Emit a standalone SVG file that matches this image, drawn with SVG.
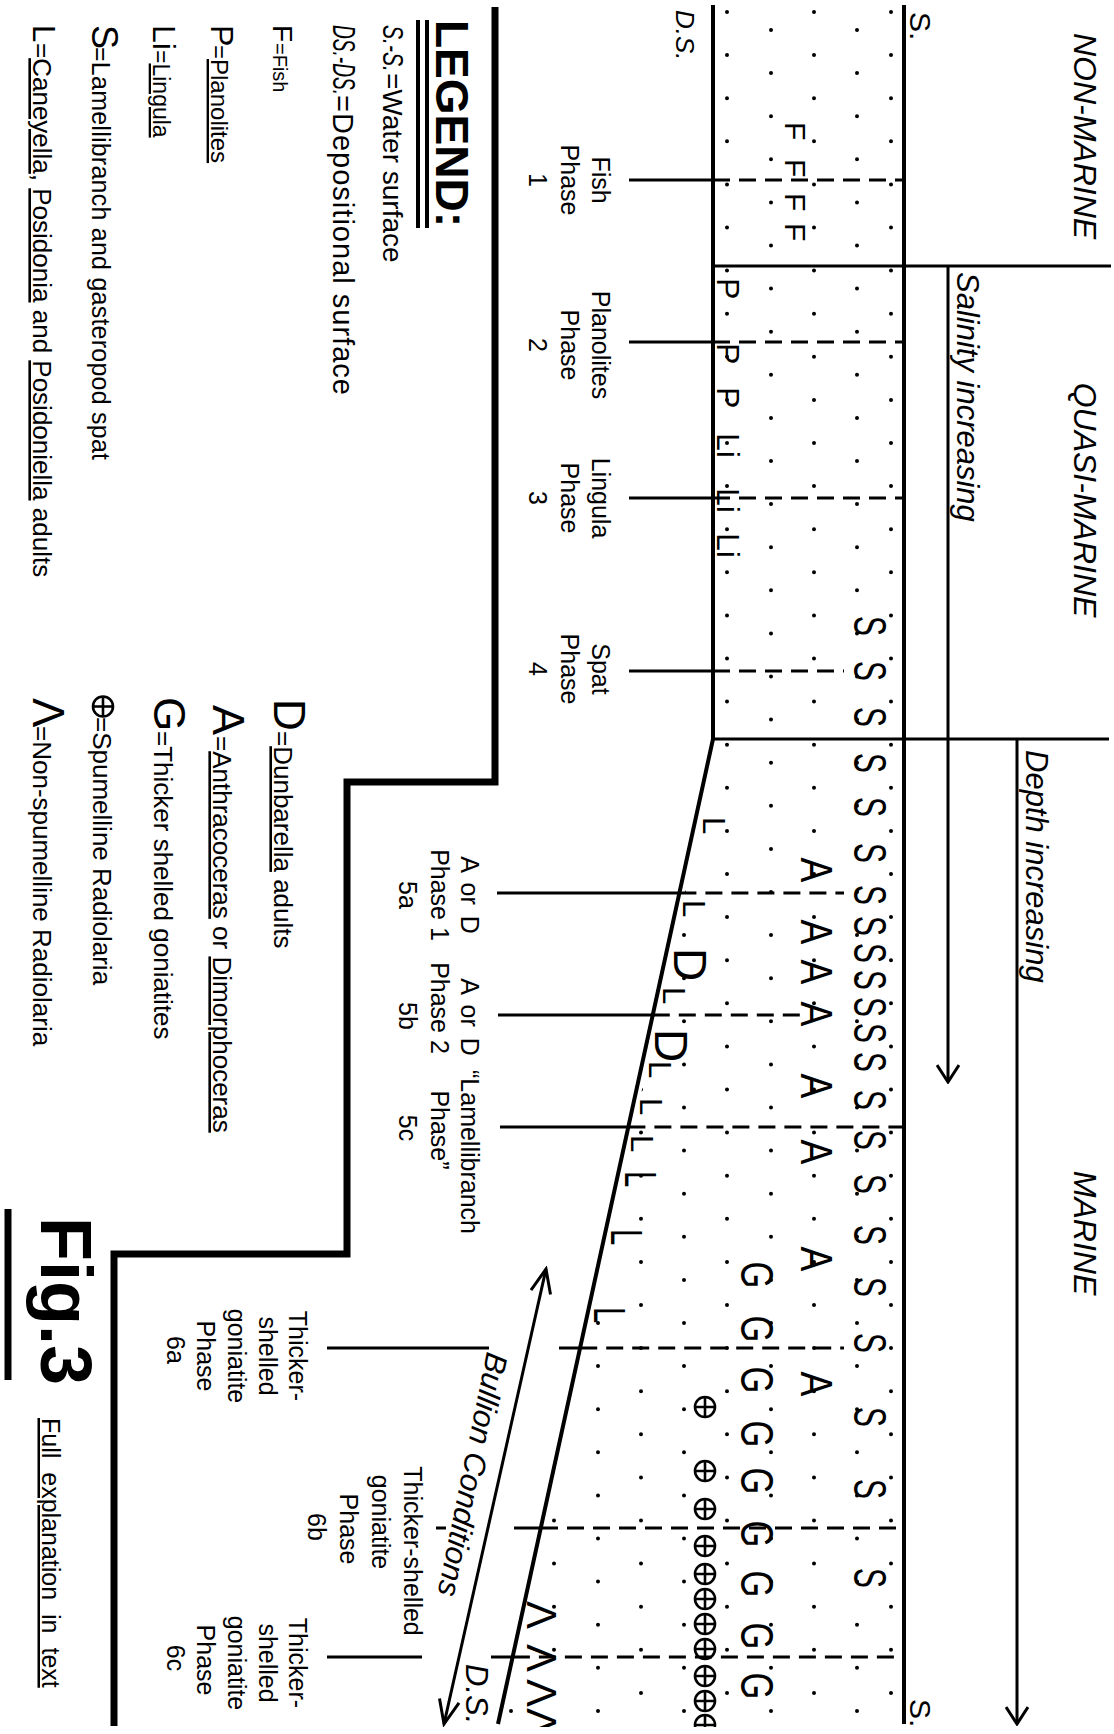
<svg xmlns="http://www.w3.org/2000/svg" width="1114" height="1734" viewBox="0 0 1114 1734">
<style>
text{font-family:"Liberation Sans",Arial,Helvetica,sans-serif;fill:#000}
.it{font-style:italic}
.zone{font-size:32px;font-style:italic;text-anchor:middle}
.note{font-size:31px;font-style:italic}
.pl{font-size:25px;text-anchor:middle}
.lg{font-size:26px}
.u{text-decoration:underline}
.ln{stroke:#000;fill:none}
.thick{stroke-width:4}
.mid{stroke-width:3}
.ph{stroke-width:3}
.dash{stroke-dasharray:17 9}
.dotA,.dotB{stroke:#000;stroke-width:4;stroke-linecap:round;stroke-dasharray:0 43.1;fill:none}
.op circle,.op path{fill:none;stroke:#000;stroke-width:2.6}
</style>
<defs>
<marker id="ah" viewBox="0 0 20 24" refX="18" refY="12" markerWidth="20" markerHeight="24" markerUnits="userSpaceOnUse" orient="auto-start-reverse"><path d="M1,1 L18,12 L1,23" fill="none" stroke="#000" stroke-width="3"/></marker>
<marker id="ah2" viewBox="0 0 28 24" refX="25" refY="12" markerWidth="28" markerHeight="24" markerUnits="userSpaceOnUse" orient="auto-start-reverse"><path d="M1,2 L25,12 L1,22" fill="none" stroke="#000" stroke-width="3"/></marker>
<clipPath id="band"><polygon points="718,0 900,0 900,1730 503,1730 718,739"/></clipPath>
<clipPath id="bottomclip"><rect x="0" y="0" width="1727" height="1114"/></clipPath>
<g id="op" class="op"><circle r="10"/><path d="M-10,0H10M0,-10V10"/></g>
</defs>
<rect width="1114" height="1734" fill="#fff"/>
<g id="dots" clip-path="url(#band)">
<line class="dotA" x1="891" y1="12" x2="891" y2="1734"/>
<line class="dotB" x1="857" y1="30" x2="857" y2="1734"/>
<line class="dotA" x1="814" y1="12" x2="814" y2="1734"/>
<line class="dotB" x1="771" y1="30" x2="771" y2="1734"/>
<line class="dotA" x1="727" y1="12" x2="727" y2="1734"/>
<line class="dotB" x1="684" y1="30" x2="684" y2="1734"/>
<line class="dotA" x1="641" y1="12" x2="641" y2="1734"/>
<line class="dotB" x1="598" y1="30" x2="598" y2="1734"/>
<line class="dotA" x1="554" y1="12" x2="554" y2="1734"/>
<line class="dotB" x1="511" y1="30" x2="511" y2="1734"/>
</g>
<g transform="translate(1114,0) rotate(90)">
<g id="surfaces">
<line class="ln thick" x1="5" y1="210" x2="1724" y2="210"/>
<polyline class="ln thick" points="5,401 739,401 1724,616"/>
<text x="12" y="204" font-size="30">S.</text>
<text x="1699" y="204" font-size="30">S.</text>
<text class="it" x="10" y="438" font-size="26">D.S.</text>
<text class="it" x="1664" y="648" font-size="31">D.S.</text>
</g>
<g id="zones">
<line class="ln mid" x1="266" y1="3" x2="266" y2="401"/>
<line class="ln mid" x1="739" y1="5" x2="739" y2="401"/>
<text class="zone" x="136" y="40">NON-MARINE</text>
<text class="zone" x="500" y="40">QUASI-MARINE</text>
<text class="zone" x="1233" y="40">MARINE</text>
</g>
<g id="trend-arrows">
<line class="ln mid" x1="266" y1="166" x2="1082" y2="166" marker-end="url(#ah)"/>
<text class="note" x="272" y="157">Salinity increasing</text>
<line class="ln mid" x1="739" y1="97" x2="1724" y2="97" marker-end="url(#ah)"/>
<text class="note" x="750" y="88">Depth increasing</text>
<line class="ln mid" x1="1269" y1="568" x2="1724" y2="670" marker-start="url(#ah2)" marker-end="url(#ah2)"/>
<text class="note" font-size="30" transform="translate(1351,627) rotate(11.5)">Bullion Conditions</text>
</g>
<g id="phase-lines">
<path class="ln ph" d="M180,485V401M342,485V401M498,485V401M671,485V401M893,617V434.6M1015,616V461.2M1127,614V485.6M1348,787V625M1348,555V533.8M1528,678V668M1528,600V573M1657,787V692M1657,623V601.1"/>
<line class="ln ph dash" x1="180" y1="401" x2="180" y2="210"/>
<line class="ln ph dash" x1="342" y1="401" x2="342" y2="210"/>
<line class="ln ph dash" x1="498" y1="401" x2="498" y2="210"/>
<line class="ln ph dash" x1="671" y1="401" x2="671" y2="270"/>
<line class="ln ph dash" x1="893" y1="434.6" x2="893" y2="270"/>
<line class="ln ph dash" x1="1015" y1="461.2" x2="1015" y2="313"/>
<line class="ln ph dash" x1="1127" y1="485.6" x2="1127" y2="210"/>
<line class="ln ph dash" x1="1348" y1="533.8" x2="1348" y2="270"/>
<line class="ln ph dash" x1="1528" y1="573" x2="1528" y2="210"/>
<line class="ln ph dash" x1="1657" y1="601.1" x2="1657" y2="210"/>
</g>
<g id="fossils" clip-path="url(#bottomclip)">
<text font-size="30" x="122 159 193 223" y="329">FFFF</text>
<text font-size="32" x="278 343 387" y="397">PPP</text>
<text font-size="32" x="433" y="397">Li</text>
<text font-size="32" x="488" y="397">Li</text>
<text font-size="32" x="533" y="397">Li</text>
<text font-size="46" text-anchor="middle" transform="scale(0.65,1)" x="963.1 1032.3 1103.1 1173.8 1241.5 1312.3 1376.9 1424.6 1466.2 1507.7 1549.2 1589.2 1633.8 1692.3 1753.8 1821.5 1900 1980 2066.2 2180 2290.8 2427.7" y="260">SSSSSSSSSSSSSSSSSSSSSS</text>
<text font-size="45" text-anchor="middle" transform="scale(0.83,1)" x="1048.2 1122.9 1171.1 1221.7 1308.4 1388 1516.9 1667.5" y="313">AAAAAAAA</text>
<text font-size="46" text-anchor="middle" transform="scale(0.75,1)" x="1700 1772 1840 1912 1974.7 2045.3 2112 2181.3 2248" y="373">GGGGGGGGG</text>
<text font-size="31" x="817 900 987 1061 1098 1135" y="411 431 451 465 474 483">LLLLLL</text>
<text font-size="45" transform="scale(0.65,1)" x="1801.5 1890.8 2010.8" y="489 503 520">LLL</text>
<text font-size="46" x="948 1029" y="440 459">DD</text>
<use href="#op" x="1407" y="409"/>
<use href="#op" x="1471" y="409"/>
<use href="#op" x="1509" y="409"/>
<use href="#op" x="1546" y="409"/>
<use href="#op" x="1574" y="409"/>
<use href="#op" x="1599" y="409"/>
<use href="#op" x="1624" y="409"/>
<use href="#op" x="1649" y="409"/>
<use href="#op" x="1676" y="409"/>
<use href="#op" x="1701" y="409"/>
<use href="#op" x="1725" y="409"/>
<text font-size="42" x="1601 1644 1679 1708" y="587">ΛΛΛΛ</text>
</g>
<g id="phase-labels" class="pl">
<text x="180" y="522">Fish</text><text x="180" y="553">Phase</text><text x="180" y="585">1</text>
<text x="345" y="522">Planolites</text><text x="345" y="553">Phase</text><text x="345" y="585">2</text>
<text x="498" y="522">Lingula</text><text x="498" y="553">Phase</text><text x="498" y="585">3</text>
<text x="669" y="522">Spat</text><text x="669" y="553">Phase</text><text x="669" y="585">4</text>
<text x="895" y="653" word-spacing="4">A or D</text><text x="895" y="683">Phase 1</text><text x="895" y="715">5a</text>
<text x="1017" y="653" word-spacing="4">A or D</text><text x="1008" y="683">Phase 2</text><text x="1016" y="715">5b</text>
<text x="1070" y="653" text-anchor="start">“Lamellibranch</text><text x="1130" y="683">Phase”</text><text x="1128" y="715">5c</text>
<text x="1356" y="825">Thicker-</text><text x="1356" y="855">shelled</text><text x="1356" y="886">goniatite</text><text x="1356" y="917">Phase</text><text x="1350" y="947">6a</text>
<text x="1551" y="710">Thicker-shelled</text><text x="1522" y="742">goniatite</text><text x="1529" y="774">Phase</text><text x="1527" y="806">6b</text>
<text x="1663" y="825">Thicker-</text><text x="1663" y="855">shelled</text><text x="1663" y="886">goniatite</text><text x="1660" y="917">Phase</text><text x="1658" y="947">6c</text>
</g>
<g id="legend">
<path class="ln" stroke-width="7" d="M7,619H782V767H1254V1000H1726"/>
<text x="20" y="678" font-size="46" font-weight="bold">LEGEND:</text>
<path class="ln" stroke-width="4" d="M20,687H228M20,696H228"/>
<text class="it" x="25" y="731" font-size="30" textLength="47" lengthAdjust="spacingAndGlyphs">S.-S.</text>
<text x="73" y="731" font-size="28">=Water surface</text>
<text class="it" x="25" y="781" font-size="32" textLength="70" lengthAdjust="spacingAndGlyphs">DS.-DS.</text>
<text x="95" y="781" font-size="29" textLength="300" lengthAdjust="spacing">=Depositional surface</text>
<text x="25" y="841" font-size="28">F</text><text x="43" y="841" font-size="20">=Fish</text>
<text x="25" y="903" font-size="32">P</text><text x="45" y="903" font-size="24">=<tspan class="u">Planolites</tspan></text>
<text x="25" y="961" font-size="32">Li</text><text x="50" y="961" font-size="23">=<tspan class="u">Lingula</tspan></text>
<text x="25" y="1022" font-size="36">S</text><text x="47" y="1022" font-size="25" textLength="413" lengthAdjust="spacing">=Lamellibranch and gasteropod spat</text>
<text x="25" y="1081" font-size="31">L</text><text class="lg" x="43" y="1081">=<tspan class="u">Caneyella</tspan>, <tspan class="u">Posidonia</tspan> and <tspan class="u">Posidoniella</tspan> adults</text>
<text x="699" y="840" font-size="44">D</text><text class="lg" x="731" y="840">=<tspan class="u">Dunbarella</tspan> adults</text>
<text x="705" y="901" font-size="45">A</text><text class="lg" x="736" y="901">=<tspan class="u">Anthracoceras</tspan> or <tspan class="u">Dimorphoceras</tspan></text>
<text x="697" y="960" font-size="44">G</text><text class="lg" x="731" y="960">=Thicker shelled goniatites</text>
<use href="#op" x="706.5" y="1011"/><text class="lg" x="717" y="1021">=Spumelline Radiolaria</text>
<text x="698" y="1081" font-size="44">Λ</text><text class="lg" x="726" y="1081">=Non-spumelline Radiolaria</text>
</g>
<g id="title">
<text x="1217" y="1073" font-size="72" font-weight="bold">Fig.3</text>
<line class="ln" stroke-width="7" x1="1209" y1="1106" x2="1380" y2="1106"/>
<text class="u" x="1418" y="1072" font-size="25" word-spacing="7">Full explanation in text</text>
</g>
</g>
</svg>
